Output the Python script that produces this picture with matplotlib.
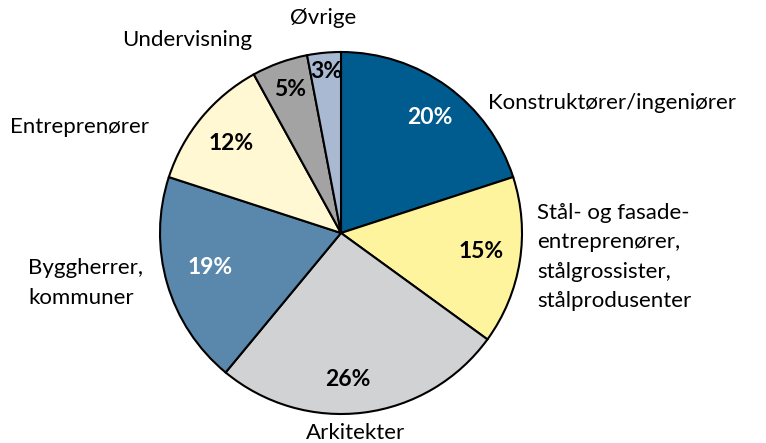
import matplotlib

matplotlib.use("Agg")
import matplotlib.pyplot as plt
import numpy as np

plt.rcParams["font.family"] = ["Lato", "DejaVu Sans"]

categories = [
    "Konstruktører/ingeniører",
    "Stål- og fasade-\nentreprenører,\nstålgrossister,\nstålprodusenter",
    "Arkitekter",
    "Byggherrer,\nkommuner",
    "Entreprenører",
    "Undervisning",
    "Øvrige",
]
shares = [20, 15, 26, 19, 12, 5, 3]
colors = ["#005b8e", "#fff49e", "#d1d2d4", "#5a88ad", "#fff8d2", "#a3a3a3", "#a9b9d2"]
pct_colors = ["white", "black", "black", "white", "black", "black", "black"]

W, H = 766, 443
CX, CY, R = 341, 233, 181


def px(x, y):
    # pixel position in the reference -> data coords of the unit pie
    return (x - CX) / R, (CY - y) / R


fig = plt.figure(figsize=(W / 100, H / 100), dpi=100)
ax = fig.add_axes([(CX - R) / W, (H - CY - R) / H, 2 * R / W, 2 * R / H])

wedges, _ = ax.pie(
    shares, colors=colors, startangle=90, counterclock=False, radius=1,
    wedgeprops={"edgecolor": "black", "linewidth": 1.5},
)
ax.set_xlim(-1, 1)
ax.set_ylim(-1, 1)
ax.set_aspect("equal")
ax.axis("off")

# percentage labels inside wedges
pct_pos = [(430, 117), (481, 252), (348, 380), (210, 268), (231, 143), (290, 90), (326, 71)]
for v, c, (x, y) in zip(shares, pct_colors, pct_pos):
    tx, ty = px(x, y)
    ax.text(tx, ty, f"{v}%", ha="center", va="center", fontsize=16.5,
            fontweight="bold", color=c, clip_on=False)

# category labels outside
label_pos = [
    ((488, 103), "left", "center"),
    ((537, 257), "left", "center"),
    ((356, 433), "center", "center"),
    ((28, 283), "left", "center"),
    ((10, 127), "left", "center"),
    ((122, 40), "left", "center"),
    ((323, 18), "center", "center"),
]
for name, ((x, y), ha, va) in zip(categories, label_pos):
    tx, ty = px(x, y)
    ax.text(tx, ty, name, ha=ha, va=va, fontsize=16, color="black",
            linespacing=1.6, clip_on=False)

fig.savefig("out.png", dpi=100)
